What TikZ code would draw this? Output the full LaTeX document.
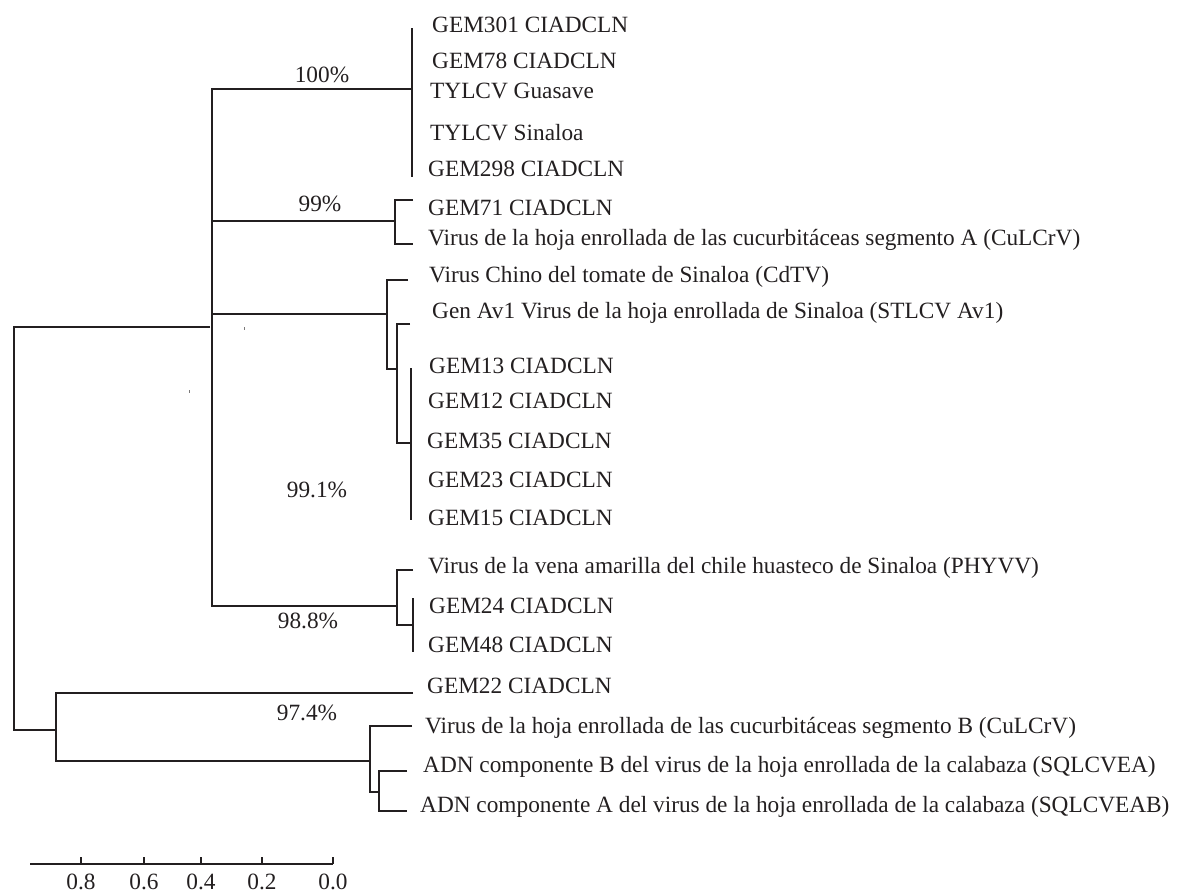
\documentclass[tikz,border=0pt]{standalone}
\usepackage{fontspec}
\setmainfont{Liberation Serif}
\definecolor{ink}{HTML}{231F20}
\begin{document}
\begin{tikzpicture}[x=1pt,y=-1pt,
  br/.style={draw=ink,line width=2.4pt,line join=miter},
  leaf/.style={anchor=base west,inner sep=0pt,font=\fontsize{23.3}{23.3}\selectfont,text=ink},
  pct/.style={anchor=base,inner sep=0pt,font=\fontsize{23.3}{23.3}\selectfont,text=ink},
  speck/.style={fill=ink!60,draw=none}]
\useasboundingbox (0,0) rectangle (1179,895);
% internal coordinates
\coordinate (root) at (14,327);
\coordinate (rootb) at (14,730);
\coordinate (m1) at (212,89);
\coordinate (m2) at (212,606);
\coordinate (c1) at (412,89);
\coordinate (c2) at (395,221);
\coordinate (c3) at (387,314);
\coordinate (c3b) at (397,369);
\coordinate (c3c) at (411,443);
\coordinate (c4) at (397,606);
\coordinate (c4b) at (413,625);
\coordinate (lo) at (56,730);
\coordinate (lo2) at (370,761);
\coordinate (lo3) at (379,792);
% root
\draw[br] (210,327) -- (root) -- (rootb) -- (lo);
% main vertical
\draw[br] (c1) -- (m1) -- (m2) -- (c4);
% clade 100%
\draw[br] (412,28) -- (412,177);
% clade 99%
\draw[br] (212,221) -- (c2);
\draw[br] (413,200) -- (395,200) -- (395,244) -- (413,244);
% clade 99.1%
\draw[br] (212,314) -- (c3);
\draw[br] (408,280) -- (387,280) -- (387,369) -- (c3b);
\draw[br] (410,324) -- (397,324) -- (397,443) -- (c3c);
\draw[br] (411,368) -- (411,520);
% clade 98.8%
\draw[br] (413,570) -- (397,570) -- (397,625) -- (c4b);
\draw[br] (413,598) -- (413,652);
% lower clade
\draw[br] (413,693) -- (56,693) -- (56,761) -- (lo2);
\draw[br] (412,726) -- (370,726) -- (370,792) -- (lo3);
\draw[br] (407,771) -- (379,771) -- (379,811) -- (407,811);
% specks
\fill[speck] (243.5,326.5) rectangle (244.8,329.5);
\fill[speck] (188.5,389.5) rectangle (189.8,392.5);
% leaves
\node[leaf] (l1) at (432,32) {GEM301 CIADCLN};
\node[leaf] (l2) at (432,68) {GEM78 CIADCLN};
\node[leaf] (l3) at (430,98) {TYLCV Guasave};
\node[leaf] (l4) at (430,140) {TYLCV Sinaloa};
\node[leaf] (l5) at (428,176) {GEM298 CIADCLN};
\node[leaf] (l6) at (428,215) {GEM71 CIADCLN};
\node[leaf] (l7) at (428,245) {Virus de la hoja enrollada de las cucurbitáceas segmento A (CuLCrV)};
\node[leaf] (l8) at (429,282) {Virus Chino del tomate de Sinaloa (CdTV)};
\node[leaf] (l9) at (432,318) {Gen Av1 Virus de la hoja enrollada de Sinaloa (STLCV Av1)};
\node[leaf] (l10) at (429,373) {GEM13 CIADCLN};
\node[leaf] (l11) at (428,408) {GEM12 CIADCLN};
\node[leaf] (l12) at (427,448) {GEM35 CIADCLN};
\node[leaf] (l13) at (428,487) {GEM23 CIADCLN};
\node[leaf] (l14) at (428,525) {GEM15 CIADCLN};
\node[leaf] (l15) at (428,573) {Virus de la vena amarilla del chile huasteco de Sinaloa (PHYVV)};
\node[leaf] (l16) at (429,613) {GEM24 CIADCLN};
\node[leaf] (l17) at (428,652) {GEM48 CIADCLN};
\node[leaf] (l18) at (427,693) {GEM22 CIADCLN};
\node[leaf] (l19) at (425,733) {Virus de la hoja enrollada de las cucurbitáceas segmento B (CuLCrV)};
\node[leaf] (l20) at (423,772) {ADN componente B del virus de la hoja enrollada de la calabaza (SQLCVEA)};
\node[leaf] (l21) at (420,812) {ADN componente A del virus de la hoja enrollada de la calabaza (SQLCVEAB)};
% support values
\node[pct] (p1) at (322,82) {100\%};
\node[pct] (p2) at (320,211) {99\%};
\node[pct] (p3) at (317,497) {99.1\%};
\node[pct] (p4) at (308,628) {98.8\%};
\node[pct] (p5) at (307,720) {97.4\%};
% scale bar
\coordinate (s0) at (30,864);
\coordinate (s1) at (333,864);
\draw[br] (s0) -- (s1);
\foreach \x/\t in {81/0.8,144/0.6,201/0.4,262/0.2,333/0.0}{
  \draw[br] (\x,864) -- (\x,857);
  \node[pct] at (\x,889) {\t};
}
\end{tikzpicture}
\end{document}
